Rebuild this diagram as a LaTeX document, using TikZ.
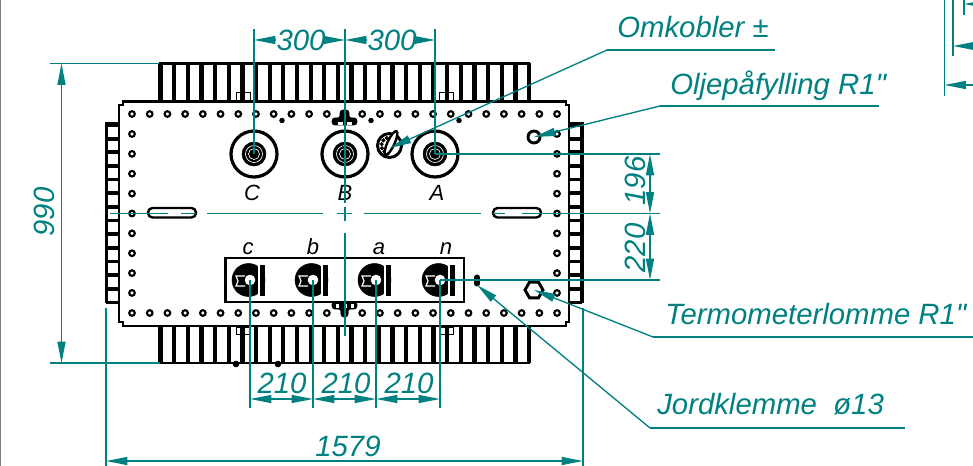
\documentclass[tikz,border=0pt]{standalone}
\usepackage{fontspec}
\newfontfamily\drawingfont{Liberation Sans}
\usetikzlibrary{arrows.meta}
\definecolor{dimteal}{RGB}{0,128,128}
\tikzset{
    dimtip/.tip={Triangle[length=16pt,width=6pt]},
    dimline/.style={dimteal,line width=1pt},
    dimtext/.style={dimteal,inner sep=0pt,anchor=base,font=\drawingfont\fontsize{22}{24}\selectfont\itshape},
    leadertext/.style={dimtext,anchor=base west},
    phasetext/.style={black,inner sep=0pt,anchor=base,font=\drawingfont\fontsize{16.5}{18}\selectfont\itshape},
    fin/.style={black,line width=3.2pt},
    outline/.style={black,line width=1.8pt},
    bolt/.style={draw=black,fill=white,line width=1.6pt}
}
\begin{document}
\begin{tikzpicture}[x=0.75pt,y=-0.75pt]
            \useasboundingbox (0,0) rectangle (973,466);
            \clip (0,0) rectangle (973,466);
            \draw[gray,line width=1.2pt] (0.5,0) -- (0.5,466);
            \coordinate (bushC) at (254,154);
            \coordinate (bushB) at (345,154);
            \coordinate (bushA) at (435,154);
            \coordinate (termc) at (250,280);
            \coordinate (termb) at (313,280);
            \coordinate (terma) at (376,280);
            \coordinate (termn) at (440,280);
            \coordinate (oilfill) at (534,137);
            \coordinate (switch) at (390,148);
            \coordinate (thermo) at (534,290);
            \coordinate (earth) at (477,285);
            \coordinate (middle) at (345,213.5);
            \foreach \i in {0,...,27} {
                \draw[fin] (160.5+13.65*\i,63) -- (160.5+13.65*\i,101);
                \draw[fin] (160.5+13.65*\i,326) -- (160.5+13.65*\i,363);
            }
            \draw[outline] (159,63.5) -- (530,63.5);
            \draw[outline] (159,363) -- (530,363);
            \foreach \i in {0,...,13} {
                \draw[black,line width=2.8pt] (106,125+13.65*\i) -- (118,125+13.65*\i);
                \draw[black,line width=2.8pt] (570,125+13.65*\i) -- (582,125+13.65*\i);
            }
            \draw[black,line width=2.8pt] (106.5,303) -- (106.5,124) -- (118,124);
            \draw[black,line width=2.8pt] (582,303) -- (582,124) -- (570,124);
            \draw[outline,fill=white,miter limit=4] (123,101.5) -- (566,101.5) -- (566,105) -- (569,105) -- (569,322) -- (566,322) -- (566,326) -- (123,326) -- (123,322) -- (119,322) -- (119,105) -- (123,105) -- cycle;
            \foreach \x in {243,446} {
                \draw[black,line width=0.7pt] (\x-7,101) rectangle (\x+7,92.5);
                \draw[black,line width=0.7pt] (\x-7,327) rectangle (\x+7,334);
            }
            \foreach \x in {236,278}
                \filldraw[black] (\x,364) circle (3);
            \foreach \i in {0,...,24} {
                \filldraw[bolt] (132+17.71*\i,114) circle (2.8);
                \filldraw[bolt] (132+17.71*\i,313) circle (2.8);
            }
            \foreach \i in {0,...,8} {
                \filldraw[bolt] (132,134+19.87*\i) circle (2.8);
                \filldraw[bolt] (557,134+19.87*\i) circle (2.8);
            }
            \foreach \x in {282,371,459}
                \filldraw[black] (\x,120.5) circle (2.4);
            \foreach \x in {148,493}
                \draw[outline,fill=white,rounded corners=3.4pt] (\x,208) rectangle (\x+48,217.5);
            \foreach \b in {bushC,bushB,bushA} {
                \draw[black,line width=2.4pt,fill=white] (\b) circle (23);
                \filldraw[black] (\b) circle (12);
                \draw[white,line width=0.5pt] (\b) circle (8.5);
                \draw[white,line width=0.5pt] (\b) circle (5.5);
            }
            \filldraw[black] (bushC) circle (4);
            \filldraw[black] (bushA) circle (4);
            \draw[black,line width=2.2pt,fill=white] (389.5,145.5) circle (12);
            \foreach \a in {100,130,160,190,220,250,280}
                \filldraw[black] (389.5,145.5) ++(\a:8) circle (1.8);
            \draw[black,line width=1.8pt,fill=white,rotate around={-25:(391,143)}] (391,143) ellipse (3.5 and 13);
            \draw[black,line width=2.2pt,fill=white] (oilfill) circle (6);
            \draw[black,line width=2.2pt,fill=white] (543,290) -- (538.5,297.8) -- (529.5,297.8) -- (525,290) -- (529.5,282.2) -- (538.5,282.2) -- cycle;
            \filldraw[black,rounded corners=2pt] (340,118) -- (340,110) -- (349,110) -- (349,118) -- (357,118) -- (357,125) -- (332,125) -- (332,118) -- cycle;
            \filldraw[white] (338,122) rectangle (342,124);
            \filldraw[white] (347,122) rectangle (351,124);
            \draw[black,line width=1.6pt,fill=white] (225.5,258) rectangle (464,302);
            \filldraw[black,rounded corners=2pt] (332,302) -- (357,302) -- (357,309) -- (348,309) -- (348,317) -- (341,317) -- (341,309) -- (332,309) -- cycle;
            \foreach \x in {337,345,352}
                \filldraw[white] (\x-1,304) rectangle (\x+1,307);
            \foreach \t in {termc,termb,terma,termn} {
                \begin{scope}[shift={(\t)}]
                    \filldraw[black] (-1.5,0) circle (16.5);
                    \filldraw[white] (8,-14) rectangle (10.5,14);
                    \filldraw[black] (10.5,-15) rectangle (14,15);
                    \draw[white,line width=0.9pt] (-5,-4) -- (-14,-4) -- (-12,1) -- (-14,6) -- (-5,6);
                    \filldraw[white] (0,0) circle (5);
                \end{scope}
            }
            \filldraw[black,rounded corners=1.5pt] (474.5,275) rectangle (479.5,286);
            \node[phasetext] (labelC) at (252,200.5) {C};
            \node[phasetext] (labelB) at (345,200.5) {B};
            \node[phasetext] (labelA) at (437,200.5) {A};
            \node[phasetext] (labelc) at (248,255) {c};
            \node[phasetext] (labelb) at (313,255) {b};
            \node[phasetext] (labela) at (379,255) {a};
            \node[phasetext] (labeln) at (446,255) {n};
            \draw[dimline] (110,213.5) -- (168,213.5);
            \draw[dimline] (181,213.5) -- (196,213.5);
            \draw[dimline] (207,213.5) -- (323,213.5);
            \draw[dimline] (337,213.5) -- (352,213.5);
            \draw[dimline] (364,213.5) -- (481,213.5);
            \draw[dimline] (493,213.5) -- (505,213.5);
            \draw[dimline] (522,213.5) -- (660,213.5);
            \draw[dimline] (345,29) -- (345,203);
            \draw[dimline] (345,207) -- (345,221);
            \draw[dimline] (345,233) -- (345,336);
            \draw[dimline] (254,29) -- (bushC);
            \draw[dimline] (435,29) -- (bushA);
            \node[dimtext] (dimCB) at (301,51) {300};
            \node[dimtext] (dimBA) at (392,51) {300};
            \coordinate (midCB) at (301,40);
            \coordinate (midBA) at (392,40);
            \draw[dimline,-{dimtip}] (276,40) -- (bushC |- midCB);
            \draw[dimline,-{dimtip}] (326,40) -- (bushB |- midCB);
            \draw[dimline,-{dimtip}] (367,40) -- (bushB |- midBA);
            \draw[dimline,-{dimtip}] (417,40) -- (bushA |- midBA);
            \coordinate (finstop) at (50,63.5);
            \coordinate (finsbot) at (50,363);
            \draw[dimline] (finstop) -- (159,63.5);
            \draw[dimline] (finsbot) -- (160,363);
            \draw[dimline,{dimtip}-{dimtip}] (61.5,63.5) -- (61.5,363);
            \node[dimtext,rotate=90] (dimheight) at (54,212) {990};
            \coordinate (dimleft) at (106,461);
            \coordinate (dimright) at (583,461);
            \draw[dimline] (106,308) -- (106,466);
            \draw[dimline] (583,308) -- (583,466);
            \draw[dimline,{dimtip}-{dimtip}] (dimleft) -- (dimright);
            \node[dimtext] (dimwidth) at (348,456) {1579};
            \foreach \t in {termc,termb,terma,termn}
                \draw[dimline] (\t) -- ++(0,128);
            \coordinate (dimrow) at (250,399);
            \draw[dimline,{dimtip}-{dimtip}] (termc |- dimrow) -- (termb |- dimrow);
            \draw[dimline,{dimtip}-{dimtip}] (termb |- dimrow) -- (terma |- dimrow);
            \draw[dimline,{dimtip}-{dimtip}] (terma |- dimrow) -- (termn |- dimrow);
            \node[dimtext] (dimcb) at (282,393) {210};
            \node[dimtext] (dimba) at (346,393) {210};
            \node[dimtext] (diman) at (409,393) {210};
            \coordinate (dimcol) at (650,154);
            \draw[dimline] (bushA) -- (660,154);
            \draw[dimline] (termn) -- (660,280);
            \draw[dimline,{dimtip}-{dimtip}] (dimcol) -- (dimcol |- middle);
            \draw[dimline,{dimtip}-{dimtip}] (dimcol |- middle) -- (dimcol |- termn);
            \node[dimtext,rotate=90] (dimupper) at (645,181) {196};
            \node[dimtext,rotate=90] (dimlower) at (645,248) {220};
            \node[leadertext] (omkobler) at (617,37.5) {Omkobler ±};
            \node[leadertext] (oljefill) at (670,95) {Oljepåfylling R1"};
            \node[leadertext] (termometer) at (665,324) {Termometerlomme R1"};
            \node[leadertext] (jordklemme) at (657,414) {Jordklemme\ \ ø13};
            \coordinate (omkoblerend) at (607,50);
            \coordinate (oljeend) at (660,106);
            \coordinate (termoend) at (653,337);
            \coordinate (jordend) at (650,428);
            \draw[dimline] (775,50) -- (omkoblerend);
            \draw[dimline,-{dimtip}] (omkoblerend) -- (switch);
            \draw[dimline] (879,106) -- (oljeend);
            \draw[dimline,-{dimtip}] (oljeend) -- (oilfill);
            \draw[dimline] (973,337) -- (termoend);
            \draw[dimline,-{dimtip}] (termoend) -- (thermo);
            \draw[dimline] (905,428) -- (jordend);
            \draw[dimline,-{dimtip}] (jordend) -- (earth);
            \draw[dimline] (944.5,0) -- (944.5,96);
            \draw[dimline] (953,0) -- (953,56);
            \draw[dimline] (964,0) -- (964,15);
            \draw[dimline,-{dimtip}] (973,85) -- (944.5,85);
            \draw[dimline,-{dimtip}] (973,46) -- (953,46);
            \draw[dimline,-{dimtip}] (985,4) -- (964,4);
        \end{tikzpicture}
\end{document}
